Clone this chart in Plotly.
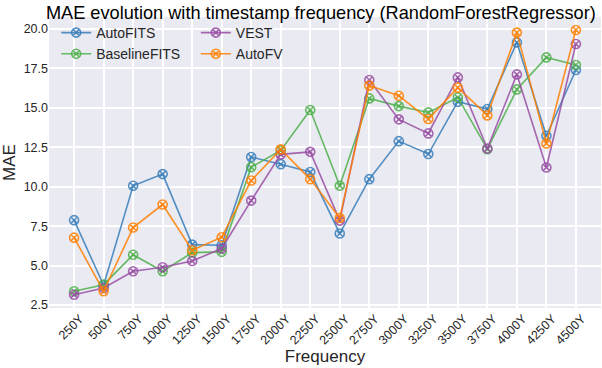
import plotly.graph_objects as go

frequencies = ["250Y", "500Y", "750Y", "1000Y", "1250Y", "1500Y", "1750Y", "2000Y", "2250Y",
               "2500Y", "2750Y", "3000Y", "3250Y", "3500Y", "3750Y", "4000Y", "4250Y", "4500Y"]

autofits = [7.88, 3.75, 10.06, 10.80, 6.33, 6.29, 11.88, 11.43, 10.93,
            7.03, 10.48, 12.89, 12.07, 15.39, 14.93, 19.15, 13.23, 17.40]
baselinefits = [3.37, 3.79, 5.69, 4.64, 5.82, 5.87, 11.24, 12.30, 14.86,
                10.06, 15.60, 15.11, 14.71, 15.66, 12.38, 16.17, 18.20, 17.72]
vest = [3.15, 3.58, 4.64, 4.89, 5.29, 6.08, 9.12, 12.05, 12.21,
        7.85, 16.77, 14.27, 13.38, 16.93, 12.42, 17.12, 11.22, 19.05]
autofv = [6.77, 3.37, 7.41, 8.87, 5.97, 6.80, 10.39, 12.37, 10.48,
          8.02, 16.41, 15.77, 14.29, 16.28, 14.52, 19.77, 12.74, 19.94]

series = [
    ("AutoFITS", autofits, "rgba(55,126,184,0.85)", "legend"),
    ("BaselineFITS", baselinefits, "rgba(77,175,74,0.85)", "legend"),
    ("VEST", vest, "rgba(152,78,163,0.85)", "legend2"),
    ("AutoFV", autofv, "rgba(255,127,0,0.85)", "legend2"),
]

fig = go.Figure()
for name, vals, color, leg in series:
    fig.add_trace(go.Scatter(
        x=frequencies, y=vals, name=name, mode="lines+markers",
        line=dict(color=color, width=1.6),
        marker=dict(symbol="circle-x-open", size=9, color=color, line=dict(width=1.6, color=color)),
        legend=leg,
    ))

font_family = "Liberation Sans, Arial, Helvetica, sans-serif"
legend_common = dict(orientation="v", yanchor="top", xanchor="left", y=1.0,
                     bgcolor="rgba(0,0,0,0)", font=dict(size=14, color="#262626"),
                     tracegroupgap=0)
fig.update_layout(
    width=602, height=368,
    margin=dict(l=49, r=1, t=17, b=60),
    paper_bgcolor="white", plot_bgcolor="#EAEAF2",
    font=dict(family=font_family, color="#262626"),
    title=dict(text="MAE evolution with timestamp frequency (RandomForestRegressor)",
               x=0.533, xanchor="center", y=0.983, yanchor="top",
               font=dict(size=18.2, color="#000000")),
    showlegend=True,
    legend=dict(x=0.013, **legend_common),
    legend2=dict(x=0.266, **legend_common),
    xaxis=dict(
        title=dict(text="Frequency", font=dict(size=17), standoff=3),
        type="category", range=[-0.85, 17.85],
        tickangle=-45, tickfont=dict(size=12.5), ticklabelshift=6,
        showgrid=True, gridcolor="white", gridwidth=1.5,
        zeroline=False, showline=False, ticks="",
    ),
    yaxis=dict(
        title=dict(text="MAE", font=dict(size=17), standoff=11),
        range=[2.31, 20.76], tickvals=[2.5, 5, 7.5, 10, 12.5, 15, 17.5, 20],
        tickformat=".1f", tickfont=dict(size=12.5),
        showgrid=True, gridcolor="white", gridwidth=1.5,
        zeroline=False, showline=False, ticks="",
    ),
)

fig.write_html("out.html", config={"displayModeBar": False},
               post_script="document.body.style.margin='0px';")
